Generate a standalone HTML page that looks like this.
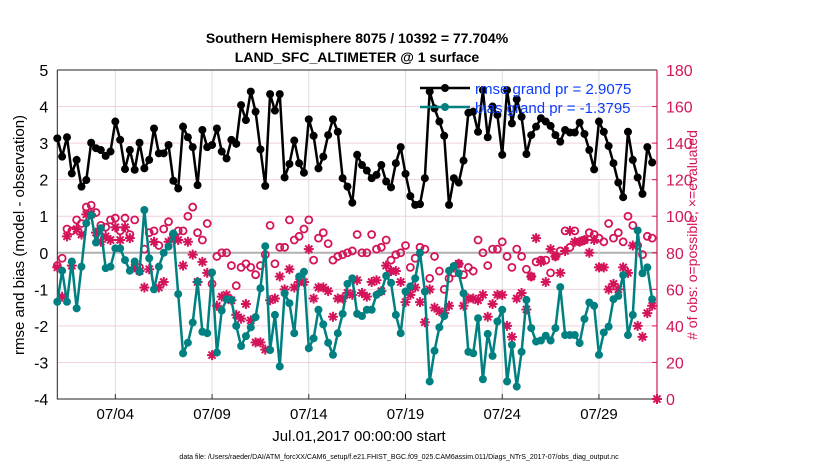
<!DOCTYPE html>
<html><head><meta charset="utf-8"><style>
body{margin:0;background:#fff;font-family:"Liberation Sans",sans-serif}
svg text{font-family:"Liberation Sans",sans-serif}
</style></head><body>
<svg id="c" width="830" height="470" viewBox="0 0 830 470" xmlns="http://www.w3.org/2000/svg">
<text x="357" y="43" text-anchor="middle" font-size="14" font-weight="bold">Southern Hemisphere 8075 / 10392 = 77.704%</text>
<text x="357" y="62" text-anchor="middle" font-size="14" font-weight="bold">LAND_SFC_ALTIMETER @ 1 surface</text>
<g id="grid"></g><g id="axes"></g><g id="marks"></g>
<text transform="translate(24,235) rotate(-90)" text-anchor="middle" font-size="15">rmse and bias (model - observation)</text>
<text transform="translate(697,235) rotate(-90)" text-anchor="middle" font-size="14" fill="#d4145a"># of obs: o=possible; ×=evaluated</text>
<text x="359" y="441" text-anchor="middle" font-size="15">Jul.01,2017 00:00:00 start</text>
<text x="399" y="459" text-anchor="middle" font-size="7">data file: /Users/raeder/DAI/ATM_forcXX/CAM6_setup/f.e21.FHIST_BGC.f09_025.CAM6assim.011/Diags_NTrS_2017-07/obs_diag_output.nc</text>
<g>
<line x1="420" y1="88" x2="470" y2="88" stroke="#000" stroke-width="2.5"/><circle cx="445" cy="88" r="4" fill="#000"/>
<line x1="420" y1="107" x2="470" y2="107" stroke="#008080" stroke-width="2.5"/><circle cx="445" cy="107" r="4" fill="#008080"/>
<text x="475" y="94" font-size="15" fill="#0a3cff">rmse grand pr = 2.9075</text>
<text x="475" y="113" font-size="15" fill="#0a3cff">bias grand pr = -1.3795</text>
</g>
</svg>
<script>
const rmse=[3.13,2.63,3.16,2.17,2.54,1.81,1.99,3.01,2.86,2.81,2.65,2.77,3.59,3.09,2.29,2.81,2.27,3.01,2.31,2.54,3.40,2.72,2.72,2.95,1.97,1.76,3.45,3.16,2.89,1.85,3.36,2.89,2.95,3.40,2.77,2.58,3.09,2.98,4.04,3.63,4.41,3.86,2.83,1.83,4.34,3.89,4.34,2.06,2.43,3.07,2.45,2.19,3.65,3.20,2.31,2.63,3.22,3.65,3.31,2.04,1.81,1.37,2.68,2.40,2.25,2.04,2.13,2.40,1.95,1.79,2.45,2.89,2.16,1.55,1.31,1.33,2.04,4.41,3.95,3.59,3.20,1.31,2.04,1.92,2.52,3.83,3.86,3.31,4.45,3.16,4.00,3.77,2.68,4.45,3.54,4.20,3.72,2.70,3.22,3.45,3.68,3.59,3.47,3.22,3.04,3.36,3.29,3.29,3.56,3.25,2.81,2.28,3.59,3.31,2.92,2.45,1.92,1.52,3.31,2.54,2.06,1.61,2.89,2.47];
const bias=[-1.34,-0.49,-1.34,-0.24,-1.52,-0.38,0.81,1.03,0.28,0.67,-0.42,-0.38,0.12,0.12,-0.20,-0.49,-0.24,-0.52,1.17,-0.15,-1.00,-0.38,0.00,0.17,0.53,-1.13,-2.75,-2.46,-1.91,-0.79,-2.16,-2.20,-0.54,-2.73,-1.58,-1.27,-1.29,-2.00,-2.55,-2.28,-2.04,-1.76,-0.97,0.18,-2.66,-1.70,-3.11,-1.11,-1.38,-2.20,-0.65,-0.52,-2.61,-2.34,-1.56,-1.96,-2.46,-2.79,-2.20,-1.67,-0.85,-0.70,-1.67,-1.73,-1.56,-1.56,-1.15,-1.06,-0.63,-0.82,-1.70,-2.20,-1.06,-0.92,-0.70,0.00,-1.06,-3.52,-2.68,-2.04,-1.73,-0.49,-0.36,-0.56,-1.11,-2.71,-2.75,-1.79,-3.46,-2.22,-2.82,-1.88,-1.56,-3.52,-2.52,-3.66,-2.71,-1.29,-2.06,-2.43,-2.40,-2.27,-2.40,-2.06,-0.94,-2.25,-2.25,-2.25,-2.47,-1.81,-1.36,-1.45,-2.79,-2.18,-2.02,-1.27,-1.18,-0.61,-2.25,-1.70,0.61,-0.56,-0.40,-1.27];
const possible=[73,77,93,92,98,96,105,106,102,95,94,98,99,92,99,90,98,72,82,91,92,84,93,97,90,92,92,100,105,91,87,96,63,78,80,80,73,62,72,74,72,68,73,79,95,74,83,83,98,87,89,93,98,76,88,91,85,76,78,79,80,81,90,80,80,90,82,83,87,76,79,80,84,72,77,83,82,66,78,70,60,66,69,74,68,72,70,87,80,73,82,82,86,78,72,82,78,71,67,75,76,76,69,78,81,92,83,92,86,87,91,90,88,86,96,88,91,86,100,95,84,79,89,88];
const evaluated=[72,56,89,73,93,90,101,101,91,86,89,87,94,87,94,88,72,70,61,71,86,61,64,86,88,87,73,86,79,64,75,69,24,51,56,57,54,46,44,52,43,31,31,27,54,55,67,60,71,61,64,64,82,55,61,61,59,45,55,55,58,57,65,58,56,64,65,59,73,70,70,64,53,57,61,53,42,60,50,48,47,51,72,74,51,55,55,54,57,45,52,57,57,40,34,55,58,49,67,88,75,64,82,78,69,81,92,86,86,87,80,87,72,72,60,63,60,72,69,84,40,34,47,51];
const yTicks=[-4,-3,-2,-1,0,1,2,3,4,5];
const rTicks=[0,20,40,60,80,100,120,140,160,180];
const xTickDays=[3,8,13,18,23,28];
const xTickLabels=["07/04","07/09","07/14","07/19","07/24","07/29"];
const L=57.3,R=657,T=70,B=399,DAYS=31;
const xs=d=>L+(R-L)*d/DAYS;
const ys=v=>B-(B-T)*(v+4)/9;
const yr=v=>B-(B-T)*v/180;
const NS="http://www.w3.org/2000/svg";
function mk(p,tag,a){const e=document.createElementNS(NS,tag);for(const k in a)e.setAttribute(k,a[k]);p.appendChild(e);return e;}
const grid=document.getElementById('grid'),axes=document.getElementById('axes'),marks=document.getElementById('marks');
yTicks.forEach(v=>{if(v>-4&&v<5){const l=mk(grid,'line',{x1:L,x2:R,y1:ys(v),y2:ys(v),stroke:v===0?'#b0b0b0':'#f2d0dc','stroke-width':v===0?2:1});

}
const t=mk(axes,'text',{x:L-9,y:ys(v)+6,'text-anchor':'end','font-size':16});t.textContent=v;

});
rTicks.forEach(v=>{const t=mk(axes,'text',{x:R+9,y:yr(v)+6,'font-size':16,fill:'#d4145a'});t.textContent=v;


mk(axes,'line',{x1:R,x2:R-5,y1:yr(v),y2:yr(v),stroke:'#d4145a'});});
xTickDays.forEach((d,i)=>{const l=mk(grid,'line',{x1:xs(d),x2:xs(d),y1:T,y2:B,stroke:'#dcdcdc'});


mk(axes,'line',{x1:xs(d),x2:xs(d),y1:B,y2:B-5,stroke:'#333'});
const t=mk(axes,'text',{x:xs(d),y:419,'text-anchor':'middle','font-size':15});t.textContent=xTickLabels[i];

});
const f=mk(axes,'path',{d:`M${L},${T}H${R}M${L},${T}V${B}H${R}`,stroke:'#222',fill:'none','stroke-width':1});


mk(axes,'line',{x1:R,x2:R,y1:T,y2:B,stroke:'#d4145a','stroke-width':1.2});
function series(vals,color,name){const g=mk(marks,'g',{});


mk(g,'polyline',{points:vals.map((v,i)=>xs(i*0.25)+','+ys(v)).join(' '),fill:'none',stroke:color,'stroke-width':2.5});
vals.forEach((v,i)=>mk(g,'circle',{cx:xs(i*0.25),cy:ys(v),r:4,fill:color}));}
const pg=mk(marks,'g',{});


possible.forEach((v,i)=>mk(pg,'circle',{cx:xs(i*0.25),cy:yr(v),r:3.5,fill:'none',stroke:'#d4145a','stroke-width':1.8}));
const eg=mk(marks,'g',{});


function star(x,y){const r=5;let d='';for(let k=0;k<4;k++){const a=k*Math.PI/4;d+=`M${x-r*Math.cos(a)},${y-r*Math.sin(a)}L${x+r*Math.cos(a)},${y+r*Math.sin(a)}`;}mk(eg,'path',{d,stroke:'#d4145a','stroke-width':2});}
evaluated.forEach((v,i)=>star(xs(i*0.25),yr(v)));
star(R,yr(0));
series(rmse,'#000','rmse-series');
series(bias,'#008080','bias-series');
</script>
</body></html>
